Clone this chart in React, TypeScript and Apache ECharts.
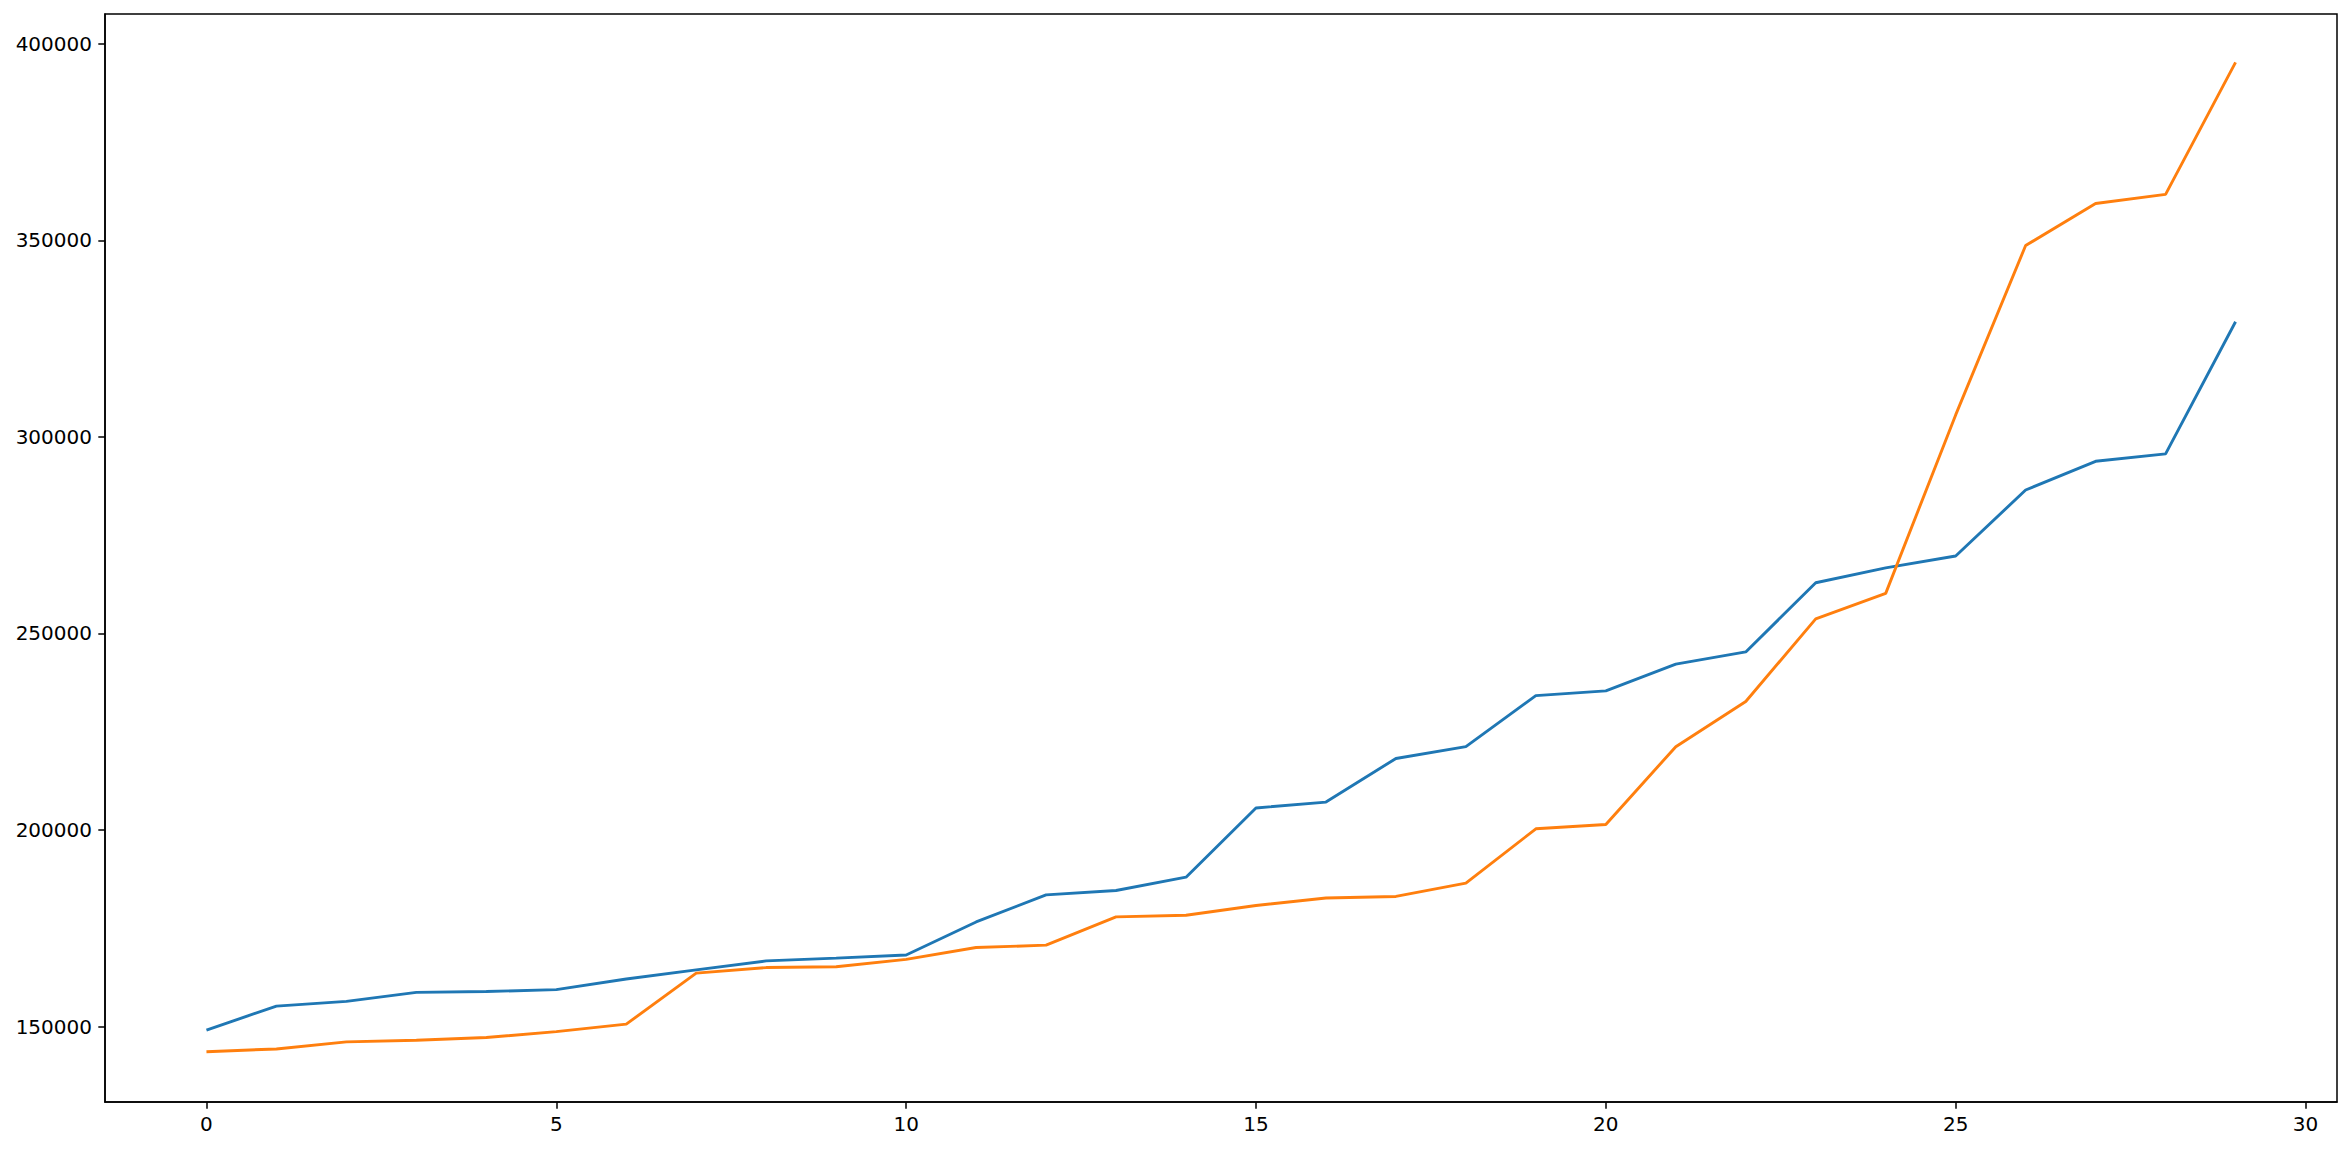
import React, { useEffect, useRef } from "react";
import * as echarts from "echarts";

const xIndex = Array.from({ length: 30 }, (_, i) => i);
const blueValues = [
  149100, 155200, 156400, 158700, 158900, 159400, 162100, 164400, 166700, 167400,
  168200, 176600, 183500, 184600, 188000, 205600, 207100, 218200, 221200, 234200,
  235400, 242200, 245300, 262900, 266700, 269700, 286500, 293800, 295700, 329300,
];
const orangeValues = [
  143600, 144300, 146100, 146500, 147200, 148700, 150600, 163600, 165000, 165200,
  167100, 170100, 170700, 177900, 178300, 180800, 182700, 183100, 186500, 200300,
  201400, 221200, 232700, 253700, 260200, 305600, 348700, 359400, 361700, 395300,
];
const xTicks = [0, 5, 10, 15, 20, 25, 30];
const yTicks = [150000, 200000, 250000, 300000, 350000, 400000];

export default function App() {
  const ref = useRef<HTMLDivElement>(null);
  useEffect(() => {
    if (!ref.current) return;
    const chart = echarts.init(ref.current, null, { renderer: "svg" });
    const font = { fontFamily: "DejaVu Sans", fontSize: 20, color: "#000" };
    chart.setOption({
      animation: false,
      backgroundColor: "#fff",
      grid: {
        left: 105,
        top: 14,
        right: 14,
        bottom: 47,
        show: true,
        borderColor: "#000",
        borderWidth: 1.5,
        backgroundColor: "transparent",
      },
      xAxis: {
        type: "value",
        min: -1.45,
        max: 30.45,
        axisLine: { show: true, onZero: false, lineStyle: { color: "#000", width: 1.5 } },
        axisTick: {
          show: true,
          length: 6.7,
          inside: false,
          customValues: xTicks,
          lineStyle: { color: "#000", width: 1.5 },
        },
        axisLabel: { ...font, margin: 12, customValues: xTicks, formatter: (v: number) => String(v) },
        splitLine: { show: false },
      },
      yAxis: {
        type: "value",
        min: 130800,
        max: 407600,
        axisLine: { show: true, onZero: false, lineStyle: { color: "#000", width: 1.5 } },
        axisTick: {
          show: true,
          length: 6.7,
          inside: false,
          customValues: yTicks,
          lineStyle: { color: "#000", width: 1.5 },
        },
        axisLabel: { ...font, margin: 13, customValues: yTicks, formatter: (v: number) => String(v) },
        splitLine: { show: false },
      },
      series: [
        {
          type: "line",
          data: xIndex.map((x, i) => [x, blueValues[i]]),
          showSymbol: false,
          lineStyle: { color: "#1f77b4", width: 2.9 },
          itemStyle: { color: "#1f77b4" },
        },
        {
          type: "line",
          data: xIndex.map((x, i) => [x, orangeValues[i]]),
          showSymbol: false,
          lineStyle: { color: "#ff7f0e", width: 2.9 },
          itemStyle: { color: "#ff7f0e" },
        },
      ],
    });
    return () => chart.dispose();
  }, []);
  return (
    <div
      ref={ref}
      style={{ position: "absolute", left: 0, top: 0, width: 2351, height: 1149 }}
    />
  );
}
